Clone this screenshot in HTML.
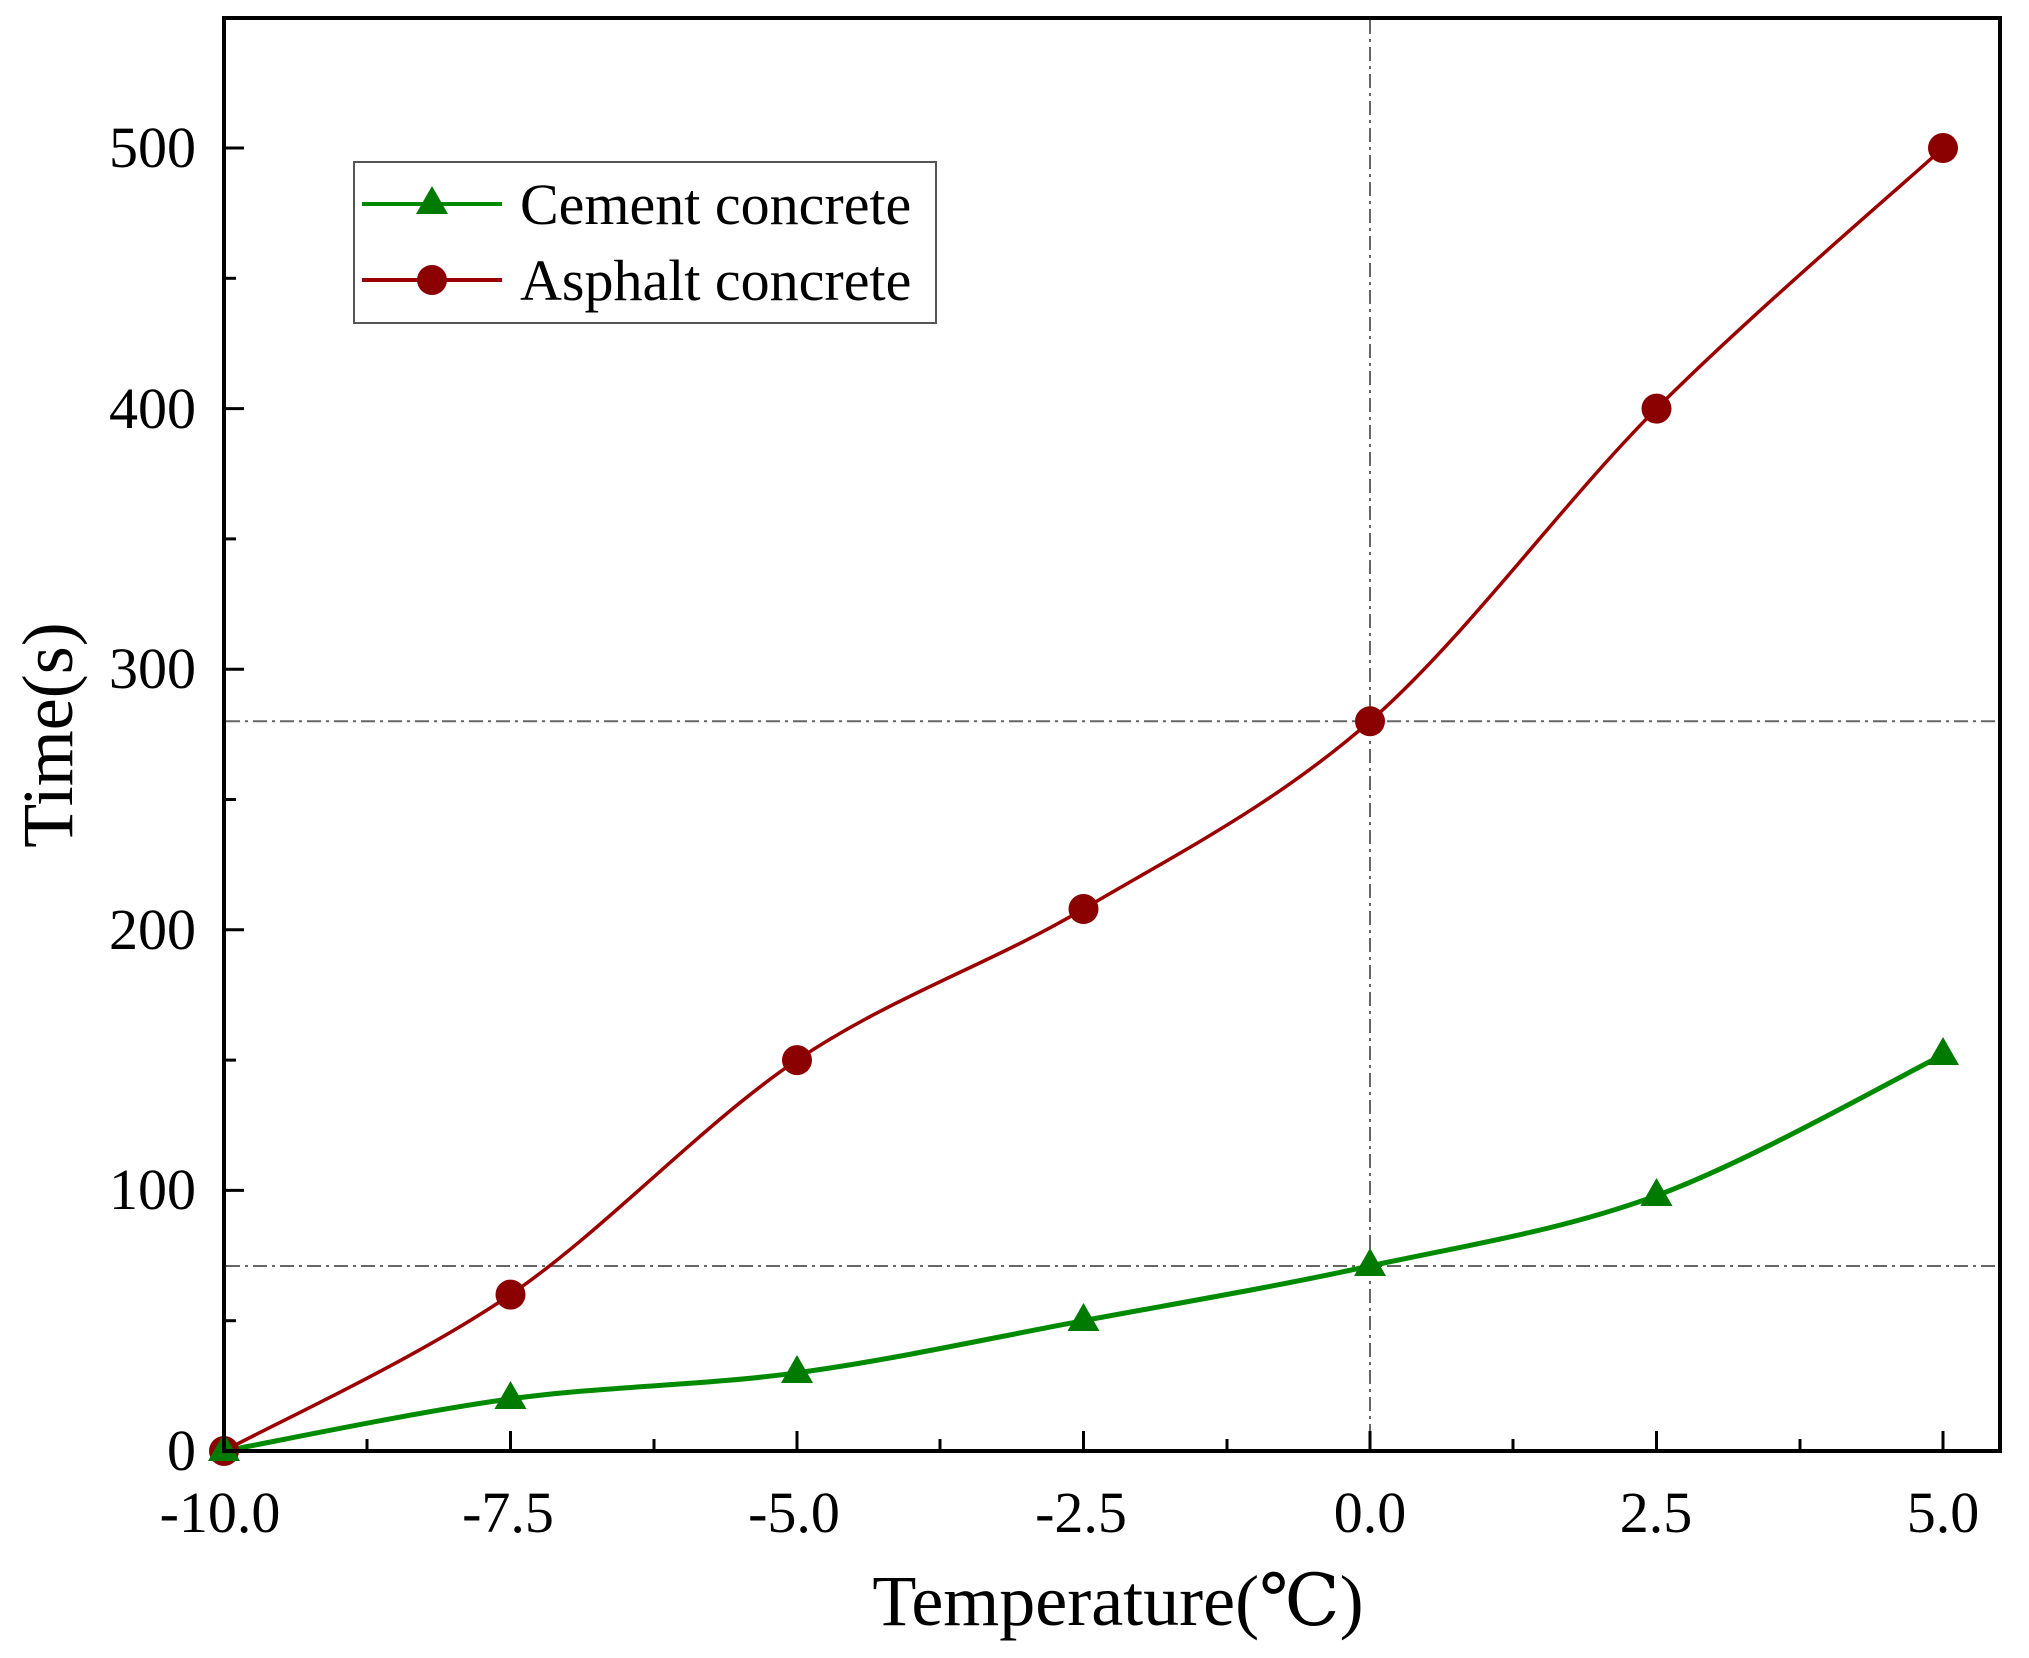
<!DOCTYPE html>
<html><head><meta charset="utf-8"><style>
html,body{margin:0;padding:0;background:#fff;}
svg{display:block;}
text{font-family:"Liberation Serif","DejaVu Serif",serif;fill:#000;}
</style></head><body>
<svg width="2029" height="1658" viewBox="0 0 2029 1658" xmlns="http://www.w3.org/2000/svg">
<rect width="2029" height="1658" fill="#fff"/>
<!-- reference dash-dot lines -->
<g stroke="#666" stroke-width="2" stroke-dasharray="14,5,3,5" fill="none">
<line x1="1370" y1="20" x2="1370" y2="1449"/>
<line x1="226" y1="721.3" x2="1998" y2="721.3"/>
<line x1="226" y1="1266" x2="1998" y2="1266"/>
</g>
<!-- curves -->
<g transform="translate(1.04,0) scale(0.99537,1)" fill="none">
<path stroke="#9b0000" stroke-width="3.5" d="M224,1451 C272,1424.9 415.8,1359.8 511.8,1294.6 C607.8,1229.4 703.7,1124.4 799.7,1060.1 C895.7,995.8 991.6,965.5 1087.5,909 C1183.4,852.5 1279.3,804.7 1375.3,721.3 C1471.3,637.9 1567.2,504.2 1663.2,408.6 C1759.2,313.1 1903,191.4 1951,148"/>
<path stroke="#008a00" stroke-width="5" d="M224,1451 C272,1442.3 415.9,1411.9 511.8,1398.9 C607.8,1385.9 703.8,1385.8 799.7,1372.8 C895.7,1359.8 991.6,1338.5 1087.5,1320.7 C1183.4,1302.9 1279.4,1286.9 1375.3,1266 C1471.3,1245.2 1567.3,1230.8 1663.2,1195.6 C1759.2,1160.4 1903,1078.4 1951,1054.9"/>
</g>
<!-- markers -->
<g fill="#8b0000">
<circle cx="224" cy="1451" r="15"/><circle cx="510.5" cy="1294.6" r="15"/><circle cx="797" cy="1060.1" r="15"/><circle cx="1083.5" cy="909" r="15"/><circle cx="1370" cy="721.3" r="15"/><circle cx="1656.5" cy="408.6" r="15"/><circle cx="1943" cy="148" r="15"/>
</g>
<g fill="#007a00">
<polygon points="224,1433 208,1461 240,1461"/>
<polygon points="510.5,1381 494.5,1409 526.5,1409"/>
<polygon points="797,1355 781,1383 813,1383"/>
<polygon points="1083.5,1303 1067.5,1331 1099.5,1331"/>
<polygon points="1370,1248 1354,1276 1386,1276"/>
<polygon points="1656.5,1178 1640.5,1206 1672.5,1206"/>
<polygon points="1943,1037 1927,1065 1959,1065"/>
</g>
<!-- frame -->
<rect x="224" y="18" width="1776" height="1433" fill="none" stroke="#000" stroke-width="4"/>
<!-- ticks -->
<g stroke="#000" stroke-width="3">
<line x1="224" y1="1451" x2="224" y2="1431"/><line x1="510.5" y1="1451" x2="510.5" y2="1431"/><line x1="797" y1="1451" x2="797" y2="1431"/><line x1="1083.5" y1="1451" x2="1083.5" y2="1431"/><line x1="1370" y1="1451" x2="1370" y2="1431"/><line x1="1656.5" y1="1451" x2="1656.5" y2="1431"/><line x1="1943" y1="1451" x2="1943" y2="1431"/>
<line x1="367" y1="1451" x2="367" y2="1439"/><line x1="654" y1="1451" x2="654" y2="1439"/><line x1="940" y1="1451" x2="940" y2="1439"/><line x1="1227" y1="1451" x2="1227" y2="1439"/><line x1="1513" y1="1451" x2="1513" y2="1439"/><line x1="1800" y1="1451" x2="1800" y2="1439"/>
<line x1="224" y1="1190.4" x2="244" y2="1190.4"/><line x1="224" y1="929.8" x2="244" y2="929.8"/><line x1="224" y1="669.2" x2="244" y2="669.2"/><line x1="224" y1="408.6" x2="244" y2="408.6"/><line x1="224" y1="148" x2="244" y2="148"/>
<line x1="224" y1="1320.7" x2="236" y2="1320.7"/><line x1="224" y1="1060.1" x2="236" y2="1060.1"/><line x1="224" y1="799.5" x2="236" y2="799.5"/><line x1="224" y1="538.9" x2="236" y2="538.9"/><line x1="224" y1="278.3" x2="236" y2="278.3"/>
</g>
<!-- y labels -->
<g font-size="58" text-anchor="end">
<text x="196" y="1470">0</text>
<text x="196" y="1209">100</text>
<text x="196" y="949">200</text>
<text x="196" y="688">300</text>
<text x="196" y="428">400</text>
<text x="196" y="167">500</text>
</g>
<!-- x labels -->
<g font-size="58" text-anchor="middle">
<text x="220" y="1532">-10.0</text>
<text x="508" y="1532">-7.5</text>
<text x="794" y="1532">-5.0</text>
<text x="1081" y="1532">-2.5</text>
<text x="1370" y="1532">0.0</text>
<text x="1656" y="1532">2.5</text>
<text x="1943" y="1532">5.0</text>
</g>
<text x="1118" y="1625" font-size="72" text-anchor="middle">Temperature(℃)</text>
<text transform="translate(72,735) rotate(-90)" font-size="72" text-anchor="middle">Time(s)</text>
<!-- legend -->
<rect x="354" y="162" width="582" height="161" fill="#fff" stroke="#555" stroke-width="2"/>
<line x1="362" y1="204" x2="502" y2="204" stroke="#008a00" stroke-width="4"/>
<polygon points="432,186 416,214 448,214" fill="#007a00"/>
<line x1="362" y1="280" x2="502" y2="280" stroke="#9b0000" stroke-width="4"/>
<circle cx="432" cy="280" r="15" fill="#8b0000"/>
<text x="520" y="224" font-size="58">Cement concrete</text>
<text x="520" y="300" font-size="58">Asphalt concrete</text>
</svg>
</body></html>
